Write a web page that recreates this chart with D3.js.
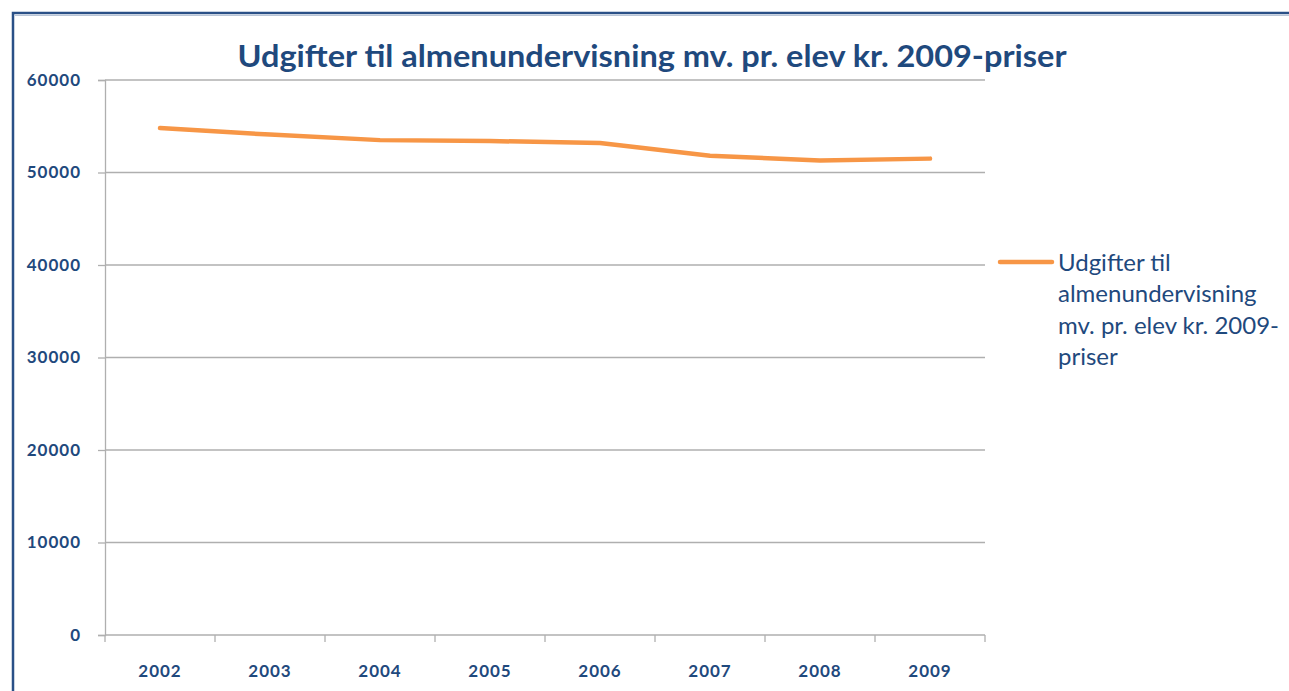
<!DOCTYPE html>
<html>
<head>
<meta charset="utf-8">
<script src="https://cdn.jsdelivr.net/npm/d3@7"></script>
<style>
  body { margin: 0; background: #fff; }
  svg { display: block; }
</style>
</head>
<body>
<div id="chart"></div>
<script>
// chart data
var years = ['2002', '2003', '2004', '2005', '2006', '2007', '2008', '2009'];
var values = [54800, 54100, 53500, 53400, 53200, 51800, 51300, 51500];
var yTicks = [0, 10000, 20000, 30000, 40000, 50000, 60000];
var titleText = 'Udgifter til almenundervisning mv. pr. elev kr. 2009-priser';
var legendLines = ['Udgifter til', 'almenundervisning', 'mv. pr. elev kr. 2009-', 'priser'];

var blue = '#1F497D';
var orange = '#F79646';
var grid = '#AFAFAF';

var svg = d3.select('#chart')
  .append('svg')
  .attr('width', 1289)
  .attr('height', 691);

// outer frame (only left and top edges are visible)
svg.append('rect')
  .attr('x', 13).attr('y', 13)
  .attr('width', 1400).attr('height', 800)
  .attr('fill', 'none')
  .attr('stroke', '#2A5087')
  .attr('stroke-width', 2.5);

svg.append('line')
  .attr('x1', 15).attr('x2', 1289)
  .attr('y1', 15.5).attr('y2', 15.5)
  .attr('stroke', '#B8C4D6')
  .attr('stroke-width', 1);

// scales
var x = d3.scaleBand()
  .domain(years)
  .range([105, 985]);

var y = d3.scaleLinear()
  .domain([0, 60000])
  .range([635, 80]);

// gridlines
svg.append('g')
  .selectAll('line')
  .data(yTicks.slice(1))
  .enter()
  .append('line')
  .attr('x1', 105).attr('x2', 985)
  .attr('y1', function(d) { return y(d); })
  .attr('y2', function(d) { return y(d); })
  .attr('stroke', grid)
  .attr('stroke-width', 1.3);

// y axis
var yAxis = svg.append('g')
  .attr('transform', 'translate(105,0)')
  .call(d3.axisLeft(y).tickValues(yTicks).tickSize(7).tickPadding(17).tickFormat(d3.format('d')));

yAxis.select('.domain').attr('stroke', grid).attr('stroke-width', 1.3);
yAxis.selectAll('.tick line').attr('stroke', grid).attr('stroke-width', 1.3);
yAxis.selectAll('text')
  .attr('fill', blue)
  .style('font-family', 'Lato, sans-serif')
  .style('font-weight', 'bold')
  .style('font-size', '17px')
  .style('letter-spacing', '1px');

// x axis with ticks on band edges
var xAxis = svg.append('g')
  .attr('transform', 'translate(0,635)');

xAxis.append('line')
  .attr('x1', 105).attr('x2', 985)
  .attr('y1', 0).attr('y2', 0)
  .attr('stroke', grid)
  .attr('stroke-width', 1.3);

xAxis.selectAll('.edge')
  .data(years.concat(['end']))
  .enter()
  .append('line')
  .attr('class', 'edge')
  .attr('x1', function(d, i) { return 105 + i * x.step(); })
  .attr('x2', function(d, i) { return 105 + i * x.step(); })
  .attr('y1', 0).attr('y2', 7)
  .attr('stroke', grid)
  .attr('stroke-width', 1.3);

xAxis.selectAll('text')
  .data(years)
  .enter()
  .append('text')
  .attr('x', function(d) { return x(d) + x.bandwidth() / 2; })
  .attr('y', 42)
  .attr('text-anchor', 'middle')
  .attr('fill', blue)
  .style('font-family', 'Lato, sans-serif')
  .style('font-weight', 'bold')
  .style('font-size', '17px')
  .style('letter-spacing', '1px')
  .text(function(d) { return d; });

// the line
var line = d3.line()
  .x(function(d, i) { return x(years[i]) + x.bandwidth() / 2; })
  .y(function(d) { return y(d); });

svg.append('path')
  .datum(values)
  .attr('d', line)
  .attr('fill', 'none')
  .attr('stroke', orange)
  .attr('stroke-width', 4.5)
  .attr('stroke-linecap', 'round')
  .attr('stroke-linejoin', 'round');

// title
svg.append('text')
  .attr('x', 652)
  .attr('y', 67)
  .attr('text-anchor', 'middle')
  .attr('fill', blue)
  .attr('textLength', 829)
  .attr('lengthAdjust', 'spacingAndGlyphs')
  .style('font-family', 'Lato, sans-serif')
  .style('font-weight', 'bold')
  .style('font-size', '31px')
  .text(titleText);

// legend
svg.append('line')
  .attr('x1', 1000).attr('x2', 1052)
  .attr('y1', 262).attr('y2', 262)
  .attr('stroke', orange)
  .attr('stroke-width', 4.5)
  .attr('stroke-linecap', 'round');

svg.append('g')
  .selectAll('text')
  .data(legendLines)
  .enter()
  .append('text')
  .attr('x', 1058)
  .attr('y', function(d, i) { return 271 + i * 31.3; })
  .attr('fill', blue)
  .style('font-family', 'Lato, sans-serif')
  .style('font-size', '24px')
  .text(function(d) { return d; });
</script>
</body>
</html>
